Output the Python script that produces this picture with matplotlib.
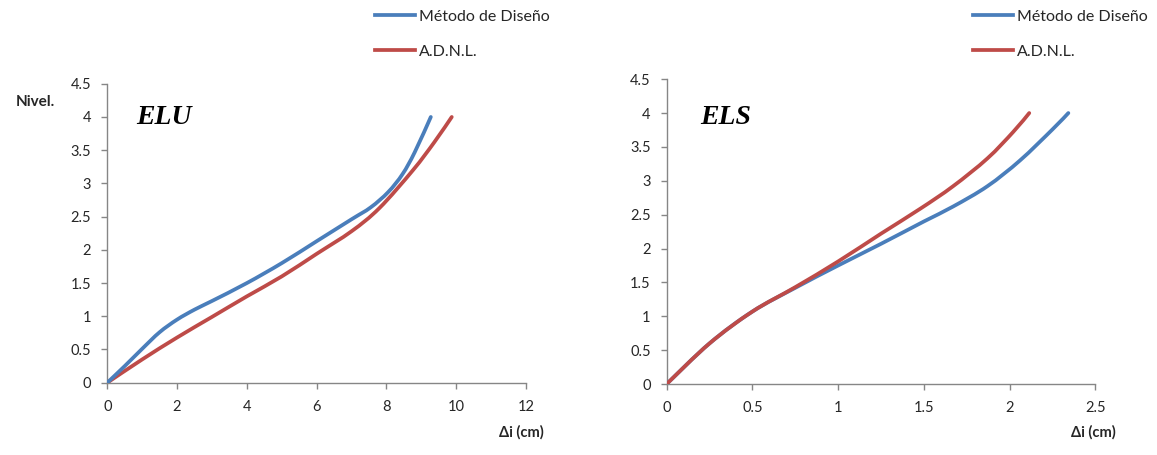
import matplotlib
matplotlib.use("Agg")
import matplotlib.pyplot as plt
from matplotlib.path import Path
from matplotlib.patches import PathPatch
from matplotlib.lines import Line2D

# ---------------- data ----------------
series_labels = ["Método de Diseño", "A.D.N.L."]

# ELU panel
elu_metodo_x = [0, 0.5, 1, 1.5, 2, 2.5, 3, 4, 5, 6, 7, 7.55, 8.05, 8.46, 8.81, 9.27]
elu_metodo_y = [0, 0.25, 0.51, 0.76, 0.95, 1.10, 1.23, 1.50, 1.80, 2.13, 2.46, 2.64, 2.87, 3.14, 3.47, 4.0]
elu_adnl_x = [0, 1, 2, 3, 4, 5, 6, 7, 7.8, 8.76, 9.37, 9.87]
elu_adnl_y = [0, 0.35, 0.68, 0.99, 1.30, 1.60, 1.94, 2.28, 2.63, 3.20, 3.62, 4.0]

# ELS panel
els_metodo_x = [0, 0.25, 0.5, 0.75, 1.0, 1.25, 1.5, 1.67, 1.87, 2.06, 2.25, 2.342]
els_metodo_y = [0, 0.60, 1.07, 1.42, 1.75, 2.07, 2.40, 2.62, 2.92, 3.30, 3.76, 4.0]
els_adnl_x = [0, 0.25, 0.5, 0.75, 1.0, 1.25, 1.48, 1.67, 1.87, 2.02, 2.114]
els_adnl_y = [0, 0.60, 1.07, 1.43, 1.81, 2.22, 2.59, 2.92, 3.33, 3.72, 4.0]

y_ticks = [0, 0.5, 1, 1.5, 2, 2.5, 3, 3.5, 4, 4.5]
y_tick_labels = ["0", "0.5", "1", "1.5", "2", "2.5", "3", "3.5", "4", "4.5"]
elu_x_ticks = [0, 2, 4, 6, 8, 10, 12]
elu_x_tick_labels = ["0", "2", "4", "6", "8", "10", "12"]
els_x_ticks = [0, 0.5, 1, 1.5, 2, 2.5]
els_x_tick_labels = ["0", "0.5", "1", "1.5", "2", "2.5"]

panel_titles = ["ELU", "ELS"]
x_label = "Δi (cm)"
y_label = "Nivel."

# ---------------- style ----------------
BLUE = "#4A7EBB"
RED = "#BE4B48"
SPINE = "#868686"
TXT = "#262626"
LW = 2.7
FONT = "Lato"

plt.rcParams["font.family"] = [FONT, "DejaVu Sans"]


def smooth_path(xs, ys):
    pts = list(zip(xs, ys))
    n = len(pts)
    verts = [pts[0]]
    codes = [Path.MOVETO]
    for i in range(n - 1):
        p0 = pts[i - 1] if i > 0 else pts[i]
        p1 = pts[i]
        p2 = pts[i + 1]
        p3 = pts[i + 2] if i + 2 < n else pts[i + 1]
        c1 = (p1[0] + (p2[0] - p0[0]) / 6.0, p1[1] + (p2[1] - p0[1]) / 6.0)
        c2 = (p2[0] - (p3[0] - p1[0]) / 6.0, p2[1] - (p3[1] - p1[1]) / 6.0)
        verts += [c1, c2, p2]
        codes += [Path.CURVE4] * 3
    return Path(verts, codes)


def draw_curve(ax, xs, ys, color):
    patch = PathPatch(smooth_path(xs, ys), fill=False, edgecolor=color,
                      lw=LW, capstyle="round", joinstyle="round",
                      transform=ax.transData, zorder=3)
    ax.add_patch(patch)


def style_axes(ax, xticks, xlabels, xlim):
    ax.set_xlim(*xlim)
    ax.set_ylim(0, 4.5)
    ax.set_xticks(xticks)
    ax.set_xticklabels(xlabels)
    ax.set_yticks(y_ticks)
    ax.set_yticklabels(y_tick_labels)
    for s in ["top", "right"]:
        ax.spines[s].set_visible(False)
    for s in ["left", "bottom"]:
        ax.spines[s].set_color(SPINE)
        ax.spines[s].set_linewidth(1.0)
    ax.tick_params(axis="both", direction="out", length=4.5, width=1.0,
                   color=SPINE, labelsize=10.5, labelcolor=TXT)
    ax.tick_params(axis="x", pad=8)
    ax.tick_params(axis="y", pad=7)


fig = plt.figure(figsize=(11.57, 4.55), dpi=100)

ax1 = fig.add_axes([0.0927, 0.1589, 0.3620, 0.657])
ax2 = fig.add_axes([0.5762, 0.1560, 0.3706, 0.670])

style_axes(ax1, elu_x_ticks, elu_x_tick_labels, (0, 12))
style_axes(ax2, els_x_ticks, els_x_tick_labels, (0, 2.5))

draw_curve(ax1, elu_adnl_x, elu_adnl_y, RED)
draw_curve(ax1, elu_metodo_x, elu_metodo_y, BLUE)
draw_curve(ax2, els_metodo_x, els_metodo_y, BLUE)
draw_curve(ax2, els_adnl_x, els_adnl_y, RED)

ax1.text(0.07, 0.887, panel_titles[0], transform=ax1.transAxes,
         ha="left", va="center", fontsize=20, fontweight="bold",
         fontstyle="italic", family="Liberation Serif", color="black")
ax2.text(0.078, 0.875, panel_titles[1], transform=ax2.transAxes,
         ha="left", va="center", fontsize=20, fontweight="bold",
         fontstyle="italic", family="Liberation Serif", color="black")

# axis labels
fig.text(35 / 1157, 1 - 102 / 455, y_label, ha="center", va="center",
         fontsize=11, fontweight="bold", color=TXT)
fig.text(521 / 1157, 1 - 432 / 455, x_label, ha="center", va="center",
         fontsize=10.5, fontweight="bold", color=TXT)
fig.text(1093 / 1157, 1 - 432 / 455, x_label, ha="center", va="center",
         fontsize=10.5, fontweight="bold", color=TXT)

# legends
handles = [Line2D([], [], color=BLUE, lw=LW), Line2D([], [], color=RED, lw=LW)]
for xpos in [375 / 1157, 973 / 1157]:
    fig.legend(handles, series_labels, loc="upper left",
               bbox_to_anchor=(xpos, 0.979), frameon=False,
               handlelength=2.5, handletextpad=0.26, labelspacing=1.3,
               borderpad=0, borderaxespad=0,
               prop={"family": FONT, "size": 11.5}, labelcolor=TXT)

fig.savefig("out.png", dpi=100)
